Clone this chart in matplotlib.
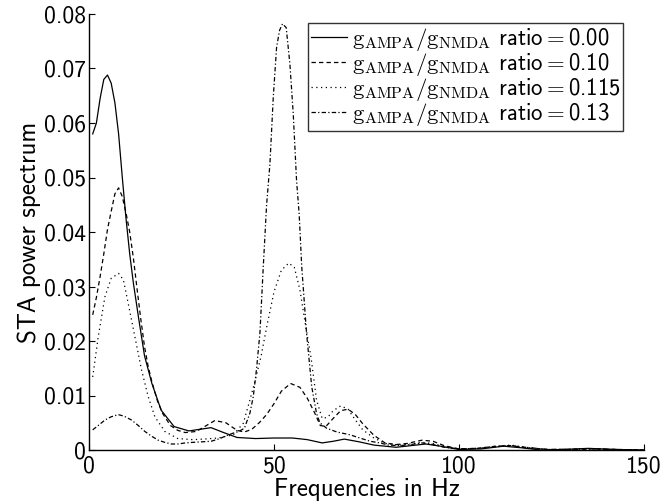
import matplotlib
matplotlib.use("Agg")
import matplotlib.pyplot as plt

# ---- data ----
f_r000 = [1, 2, 3, 4, 5, 6, 7, 8, 9, 10, 11, 12, 13.5, 15, 17, 19.5, 23, 27, 30, 33, 36, 40, 45, 50,
          55, 59, 63, 66, 69, 73, 77, 83, 87, 91, 95, 100, 106, 112, 117, 122, 128, 135, 142, 150]
v_r000 = [0.058, 0.0600, 0.0645, 0.0680, 0.0688, 0.0673, 0.0637, 0.0580, 0.0500, 0.0425, 0.0360,
          0.0306, 0.0238, 0.0173, 0.0122, 0.0073, 0.0043, 0.0035, 0.0038, 0.0041, 0.0033, 0.0023,
          0.0021, 0.0022, 0.0022, 0.0019, 0.0013, 0.0016, 0.0020, 0.0015, 0.0009, 0.0005, 0.0008,
          0.0011, 0.0007, 0.0001, 0.0002, 0.0007, 0.0004, 0.0, 0.0001, 0.0003, 0.0001, 0.0]

f_r010 = [1, 2, 3, 4, 5, 6, 7, 8, 9, 10, 11, 12, 13, 14, 15, 16, 17, 18.5, 20, 22, 24, 26, 29, 31,
          34, 37, 40, 42, 44, 46, 48, 50, 52, 54.5, 57, 59, 61, 62.5, 64, 66, 68, 70, 72, 74, 77,
          80, 83, 86, 90, 93, 96, 100, 105, 110, 114, 118, 124, 130, 136, 142, 150]
v_r010 = [0.0248, 0.0280, 0.0318, 0.0360, 0.0405, 0.0438, 0.0470, 0.0481, 0.0465, 0.0435, 0.0400,
          0.0352, 0.0295, 0.0240, 0.0190, 0.0153, 0.0125, 0.0090, 0.0066, 0.0045, 0.0036, 0.0032,
          0.0034, 0.0042, 0.0054, 0.0050, 0.0036, 0.0033, 0.0038, 0.0050, 0.0065, 0.0085, 0.0108,
          0.0122, 0.0115, 0.0095, 0.0068, 0.0045, 0.0043, 0.0058, 0.0072, 0.0075, 0.0065, 0.0048,
          0.0027, 0.0013, 0.0010, 0.0012, 0.0018, 0.0016, 0.0008, 0.0002, 0.0003, 0.0007, 0.0008,
          0.0004, 0.0001, 0.0001, 0.0002, 0.0001, 0.0]

f_r115 = [1, 2.5, 4.3, 6, 8, 9.3, 10.6, 12.4, 14.2, 16, 17.8, 20.5, 24, 28, 31, 35, 39, 41.7, 43.5,
          45, 46.5, 48, 50, 52, 54, 55.5, 57, 58.5, 60, 61.5, 63, 64.5, 66, 68, 70, 72, 74, 77, 80,
          84, 87, 90, 93, 96, 100, 105, 110, 114, 118, 124, 130, 136, 142, 150]
v_r115 = [0.0134, 0.0208, 0.0281, 0.0315, 0.0324, 0.0312, 0.0269, 0.0208, 0.0147, 0.0098, 0.0061,
          0.0034, 0.0021, 0.0019, 0.0020, 0.0022, 0.0028, 0.0049, 0.0092, 0.0130, 0.0172, 0.0225,
          0.0290, 0.0330, 0.0343, 0.0335, 0.0294, 0.0230, 0.0170, 0.0092, 0.0058, 0.0060, 0.0072,
          0.0081, 0.0075, 0.0055, 0.0037, 0.0022, 0.0012, 0.0009, 0.0011, 0.0014, 0.0012, 0.0006,
          0.0002, 0.0003, 0.0007, 0.0009, 0.0005, 0.0001, 0.0001, 0.0002, 0.0001, 0.0]

f_r130 = [1, 2.5, 4.3, 6, 7.9, 9.5, 11.5, 13.3, 15.1, 17, 18.7, 20.5, 22.3, 24, 26, 28, 30.5, 33,
          35.4, 37, 39, 40.5, 42, 43.5, 44.4, 45.3, 46.2, 47.1, 48, 48.9, 49.8, 50.7, 51.5, 52.3,
          53.3, 54.3, 55.2, 56.1, 56.8, 57.5, 58.8, 60.2, 61.5, 62.4, 64.2, 67, 70.5, 73.2, 76,
          78.6, 81, 84, 87, 90, 93, 96, 100, 105, 110, 114, 118, 124, 130, 136, 142, 150]
v_r130 = [0.0037, 0.0045, 0.0055, 0.0061, 0.0065, 0.0062, 0.0055, 0.0045, 0.0034, 0.0025, 0.0018,
          0.0014, 0.0011, 0.0011, 0.0013, 0.0014, 0.0015, 0.0016, 0.0021, 0.0026, 0.0031, 0.0034,
          0.0040, 0.0068, 0.0098, 0.0150, 0.0215, 0.0336, 0.0450, 0.0525, 0.0647, 0.0739, 0.0770,
          0.0782, 0.0775, 0.0708, 0.0617, 0.0494, 0.0433, 0.0336, 0.0214, 0.0116, 0.0067, 0.0050,
          0.0040, 0.0033, 0.0028, 0.0022, 0.0016, 0.0013, 0.0009, 0.0008, 0.0010, 0.0013, 0.0010,
          0.0005, 0.0002, 0.0003, 0.0006, 0.0008, 0.0005, 0.0001, 0.0001, 0.0002, 0.0001, 0.0]

ratios = ["0.00", "0.10", "0.115", "0.13"]
x_ticks = [0, 50, 100, 150]
y_ticks = [0, 0.01, 0.02, 0.03, 0.04, 0.05, 0.06, 0.07, 0.08]
y_ticklabels = ["0", "0.01", "0.02", "0.03", "0.04", "0.05", "0.06", "0.07", "0.08"]

plt.rcParams['font.family'] = ['cmss10', 'DejaVu Sans']
plt.rcParams['mathtext.fontset'] = 'cm'
plt.rcParams['axes.unicode_minus'] = False

fig = plt.figure(figsize=(6.65, 5.04), dpi=100)
ax = fig.add_axes([89/665, 54/504, 555/665, 436/504])

styles = [dict(ls='-'), dict(ls=(0, (3.5, 2.5))), dict(ls=(0, (1, 2.8))), dict(ls=(0, (3.5, 1.8, 1, 1.8)))]
series = [(f_r000, v_r000), (f_r010, v_r010), (f_r115, v_r115), (f_r130, v_r130)]
for (fx, vy), st, r in zip(series, styles, ratios):
    ax.plot(fx, vy, color='black', lw=0.9,
            label=r'$\mathrm{g}_{\mathrm{AMPA}}/\mathrm{g}_{\mathrm{NMDA}}$ ratio$=$' + r, **st)

ax.set_xlim(0, 150)
ax.set_ylim(0, 0.08)
ax.set_xticks(x_ticks)
ax.set_xticklabels([str(t) for t in x_ticks])
ax.set_yticks(y_ticks)
ax.set_yticklabels(y_ticklabels)
ax.spines['top'].set_visible(False)
ax.spines['right'].set_visible(False)
for s in ['left', 'bottom']:
    ax.spines[s].set_linewidth(1.0)
ax.tick_params(axis='both', direction='in', length=4, width=0.8, labelsize=17)
ax.tick_params(axis='x', pad=4)
ax.tick_params(axis='y', pad=2)
ax.set_xlabel('Frequencies in Hz', fontsize=18, labelpad=0)
ax.set_ylabel('STA power spectrum', fontsize=18, labelpad=2)

leg = ax.legend(loc='upper right', bbox_to_anchor=(0.962, 0.979), borderaxespad=0,
                fontsize=16.4, frameon=True, fancybox=False, handlelength=1.6, handletextpad=0.2,
                labelspacing=-0.08, borderpad=0.12)
leg.get_frame().set_edgecolor('black')
leg.get_frame().set_linewidth(1.0)

fig.savefig('out.png', dpi=100)
